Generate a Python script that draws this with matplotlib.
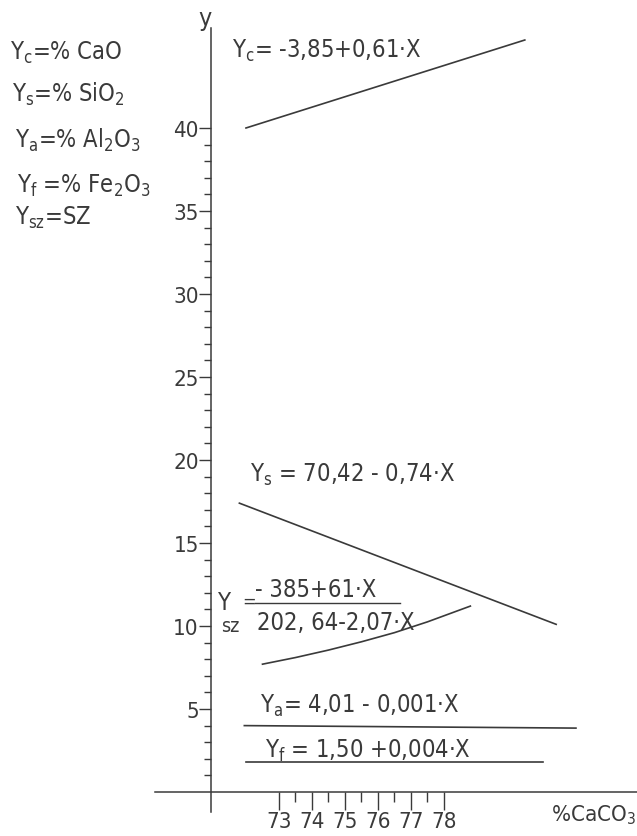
import matplotlib
matplotlib.use("Agg")
import matplotlib.pyplot as plt


INK = "#3a3a3a"
LINE_W = 1.2

# regression lines / curve (x = % CaCO3)
yc_x = [72.0, 80.45]
yc_y = [40.0, 45.3]
ys_x = [71.8, 81.4]
ys_y = [17.4, 10.1]
ysz_x = [72.5, 73.5, 74.5, 75.5, 76.5, 77.5, 78.8]
ysz_y = [7.7, 8.1, 8.55, 9.05, 9.6, 10.25, 11.2]
ya_x = [71.95, 82.0]
ya_y = [4.0, 3.85]
yf_x = [72.0, 81.0]
yf_y = [1.79, 1.79]

x_ticks = [73, 74, 75, 76, 77, 78]
x_minor = [73.5, 74.5, 75.5, 76.5, 77.5]
y_ticks = [5, 10, 15, 20, 25, 30, 35, 40]
y_minor = list(range(1, 40))

legend_lines = [
    "Y$_\\mathregular{c}$=% CaO",
    "Y$_\\mathregular{s}$=% SiO$_\\mathregular{2}$",
    "Y$_\\mathregular{a}$=% Al$_\\mathregular{2}$O$_\\mathregular{3}$",
    "Y$_\\mathregular{f}$ =% Fe$_\\mathregular{2}$O$_\\mathregular{3}$",
    "Y$_\\mathregular{sz}$=SZ",
]

plt.rcParams["font.family"] = ["DejaVu Sans"]
plt.rcParams["font.stretch"] = "condensed"
plt.rcParams["mathtext.default"] = "regular"
plt.rcParams["text.color"] = INK


fig = plt.figure(figsize=(6.37, 8.37), dpi=100)
ax = fig.add_axes([0, 0, 1, 1])
ax.set_xlim(64.545, 83.85)
ax.set_ylim(-2.65, 47.77)

for xs, ys in [(yc_x, yc_y), (ys_x, ys_y), (ya_x, ya_y), (yf_x, yf_y)]:
    ax.plot(xs, ys, color=INK, lw=LINE_W)
ax.plot(ysz_x, ysz_y, color=INK, lw=LINE_W)

# axes drawn as crossing lines
for side in ["top", "right"]:
    ax.spines[side].set_visible(False)
ax.spines["left"].set_position(("data", 70.95))
ax.spines["left"].set_bounds(-1.2, 46.0)
ax.spines["bottom"].set_position(("data", 0))
ax.spines["bottom"].set_bounds(69.25, 83.85)
for side in ["left", "bottom"]:
    ax.spines[side].set_color(INK)
    ax.spines[side].set_linewidth(1.1)

ax.set_xticks(x_ticks)
ax.set_xticks(x_minor, minor=True)
ax.set_yticks(y_ticks)
ax.set_yticks(y_minor, minor=True)
ax.tick_params(axis="both", which="both", direction="out", color=INK,
               labelcolor=INK, width=1.0, labelsize=16)
ax.tick_params(axis="y", which="major", length=9, pad=0)
ax.tick_params(axis="y", which="minor", length=5)
ax.tick_params(axis="x", which="major", length=13, pad=1)
ax.tick_params(axis="x", which="minor", length=7)

ax.text(70.76, 46.6, "y", fontsize=18, ha="center", va="center")
ax.text(0.998, 0.012, "%CaCO$_\\mathregular{3}$", transform=ax.transAxes,
        fontsize=16, ha="right", va="bottom")

# equations next to the lines
eq_size = 17
ax.text(71.58, 44.28, "Y$_\\mathregular{c}$= -3,85+0,61·X",
        fontsize=eq_size, va="baseline")
ax.text(72.12, 18.73, "Y$_\\mathregular{s}$ = 70,42 - 0,74·X",
        fontsize=eq_size, va="baseline")

# Y_sz as a fraction; subscript tucked under the Y like the drawing
ax.text(71.15, 11.05, "Y", fontsize=eq_size, va="baseline")
ax.text(71.25, 9.72, "sz", fontsize=14, va="baseline")
ax.text(71.88, 11.2, "=", fontsize=13, va="baseline")
ax.text(72.27, 11.8, "- 385+61·X", fontsize=eq_size, va="baseline")
ax.plot([72.27, 76.67], [11.39, 11.39], color=INK, lw=1.0)
ax.text(72.33, 9.82, "202, 64-2,07·X", fontsize=eq_size, va="baseline")

ax.text(72.42, 4.82, "Y$_\\mathregular{a}$= 4,01 - 0,001·X",
        fontsize=eq_size, va="baseline")
ax.text(72.58, 2.1, "Y$_\\mathregular{f}$ = 1,50 +0,004·X",
        fontsize=eq_size, va="baseline")

# key of symbols, upper left
legend_px = [(10, 60), (12, 102), (15, 148), (17, 193), (15, 225)]
for (px, py), line in zip(legend_px, legend_lines):
    ax.text(px / 637, 1 - py / 837, line, transform=ax.transAxes,
            fontsize=17, va="baseline")

fig.savefig("out.png", dpi=100, facecolor="white")
